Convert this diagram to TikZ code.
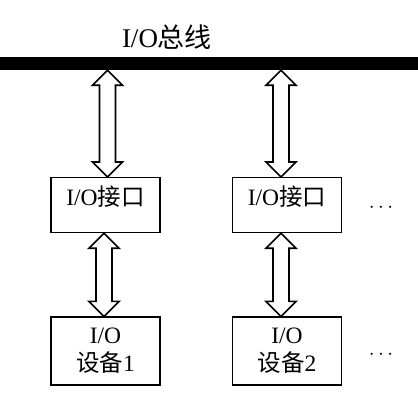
\documentclass[tikz,border=0pt]{standalone}
\usepackage{fontspec}
\setmainfont{Liberation Serif}
\newfontfamily\cjk{Noto Sans CJK SC}
\newcommand{\zh}[1]{{\cjk #1}}
\usepackage{tikz}
\usetikzlibrary{calc}

\begin{document}
\begin{tikzpicture}[x=1pt,y=-1pt]
\tikzstyle{box}=[draw,line width=1.2pt,minimum width=109pt,inner xsep=0pt,
  font=\fontsize{23.5}{28}\selectfont]
\tikzstyle{ifbox}=[box,inner ysep=0pt,text height=28pt,text depth=27pt,anchor=north]
\tikzstyle{devbox}=[box,minimum height=68pt,align=center]
\tikzstyle{dblarrow}=[draw,line width=1.6pt,fill=white,to path={
  let \p1=(\tikztostart), \p2=(\tikztotarget) in
  (\x1,\y1) -- (\x1+15pt,\y1-15pt) -- (\x1+8pt,\y1-15pt) -- (\x1+8pt,\y2+15pt)
  -- (\x1+15pt,\y2+15pt) -- (\x1,\y2) -- (\x1-15pt,\y2+15pt) -- (\x1-8pt,\y2+15pt)
  -- (\x1-8pt,\y1-15pt) -- (\x1-15pt,\y1-15pt) -- cycle}]

\useasboundingbox (0,0) rectangle (418,418);

% bus
\node (bus) [fill=black,minimum width=418pt,minimum height=13pt,inner sep=0pt] at (209,63.5) {};
\node (title) [font=\fontsize{27}{32}\selectfont] at (167,37) {I/O\zh{总线}};

% interfaces and devices
\node (if1) [ifbox] at (105.5,177) {I/O\zh{接口}};
\node (if2) [ifbox] at (287,177) {I/O\zh{接口}};
\node (dev1) [devbox] at (105.5,351) {I/O\\\zh{设备}1};
\node (dev2) [devbox] at (287,351) {I/O\\\zh{设备}2};

\node (dots1) [font=\fontsize{22}{28}\selectfont] at (381,208) {$\cdots$};
\node (dots2) [font=\fontsize{22}{28}\selectfont] at (381,355) {$\cdots$};

% arrows
\draw[dblarrow] ([xshift=2pt]if1.north |- bus.south) to ([xshift=2pt]if1.north);
\draw[dblarrow] ([xshift=-6pt]if2.north |- bus.south) to ([xshift=-6pt]if2.north);
\draw[dblarrow] ([xshift=-1.5pt]if1.south) to ([xshift=-1.5pt]dev1.north);
\draw[dblarrow] ([xshift=-6pt]if2.south) to ([xshift=-6pt]dev2.north);

\end{tikzpicture}
\end{document}
